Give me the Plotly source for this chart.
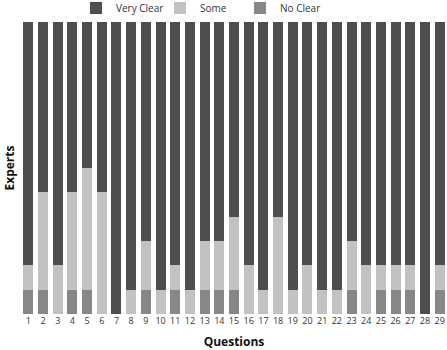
import plotly.graph_objects as go

questions = [str(i) for i in range(1, 30)]
no_clear = [1,1,0,1,1,0,0,0,1,0,1,0,1,1,1,0,0,0,0,0,0,0,1,0,1,1,1,0,1]
some =     [1,4,2,4,5,5,0,1,2,1,1,1,2,2,3,2,1,4,1,2,1,1,2,2,1,1,1,0,1]
very_clear=[10,7,10,7,6,7,12,11,9,11,10,11,9,9,8,10,11,8,11,10,11,11,9,10,10,10,10,12,10]

FONT = "Open Sans"
W, H = 447, 350
fig = go.Figure()
fig.add_trace(go.Bar(x=questions, y=no_clear, name="No Clear", legend="legend3",
                     marker=dict(color="#878787", line=dict(width=0))))
fig.add_trace(go.Bar(x=questions, y=some, name="Some", legend="legend2",
                     marker=dict(color="#c2c2c2", line=dict(width=0))))
fig.add_trace(go.Bar(x=questions, y=very_clear, name="Very Clear", legend="legend",
                     marker=dict(color="#4e4e4e", line=dict(width=0))))

def leg(px):
    return dict(xref="container", yref="container", x=px / W, y=1 - 8 / H,
                xanchor="left", yanchor="middle", orientation="h",
                font=dict(size=10, color="#333", family=FONT),
                bgcolor="rgba(0,0,0,0)", borderwidth=0)

fig.update_layout(
    barmode="stack",
    bargap=0.32,
    width=W, height=H,
    margin=dict(l=21, r=0, t=22, b=36, autoexpand=False),
    paper_bgcolor="white", plot_bgcolor="white",
    font=dict(family=FONT, color="#222", size=10),
    showlegend=True,
    legend=leg(76), legend2=leg(160), legend3=leg(240),
    xaxis=dict(showgrid=False, showline=False, zeroline=False, ticks="",
               tickfont=dict(size=9, color="#333"),
               title=dict(text="<b>Questions</b>", font=dict(size=12, color="#111"), standoff=13)),
    yaxis=dict(range=[0, 12], showgrid=False, showline=False, zeroline=False,
               showticklabels=False, ticks="",
               title=dict(text="<b>Experts</b>", font=dict(size=12, color="#111"), standoff=2)),
)
fig.write_html("out.html")
